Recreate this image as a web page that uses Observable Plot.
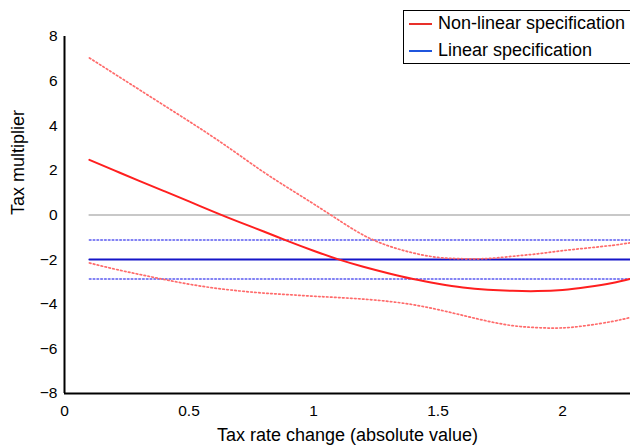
<!DOCTYPE html>
<html>
<head>
<meta charset="utf-8">
<script src="https://cdn.jsdelivr.net/npm/d3@7"></script>
<script src="https://cdn.jsdelivr.net/npm/@observablehq/plot@0.6"></script>
<style>
  html, body { margin: 0; padding: 0; background: #fff; overflow: hidden; }
  #wrap { position: relative; width: 630px; height: 445px; overflow: hidden; }
  #wrap svg g[aria-label*="axis"] text { font-size: 15.5px; font-family: "Liberation Sans", Arial, sans-serif; }
  #legend {
    position: absolute; left: 403px; top: 10px; width: 240px; height: 54px;
    border: 1.3px solid #000; background: #fff; box-sizing: border-box;
    font-family: "Liberation Sans", Arial, sans-serif; font-size: 18px; color: #000;
  }
  .row { position: absolute; left: 0; height: 20px; display: flex; align-items: center; white-space: nowrap; }
  .sw { display: inline-block; width: 23px; height: 2px; margin-left: 5px; margin-right: 6px; }
</style>
</head>
<body>
<div id="wrap"></div>
<script>
// ---- data ----
const xs = [0.1, 0.2, 0.3, 0.4, 0.5, 0.6, 0.7, 0.8, 0.9, 1.0, 1.1, 1.2, 1.3, 1.4, 1.5, 1.6, 1.7, 1.8, 1.9, 2.0, 2.1, 2.2, 2.27];
const nonLinear = [2.47, 2.0, 1.53, 1.07, 0.61, 0.14, -0.31, -0.74, -1.18, -1.6, -1.99, -2.32, -2.61, -2.87, -3.08, -3.25, -3.35, -3.40, -3.41, -3.36, -3.23, -3.05, -2.87];
const nonLinearUpper = [7.04, 6.33, 5.62, 4.91, 4.2, 3.47, 2.7, 1.92, 1.2, 0.5, -0.22, -0.9, -1.38, -1.7, -1.9, -1.96, -1.95, -1.85, -1.74, -1.6, -1.48, -1.36, -1.25];
const nonLinearLower = [-2.15, -2.42, -2.66, -2.89, -3.1, -3.27, -3.4, -3.5, -3.57, -3.64, -3.7, -3.77, -3.87, -4.02, -4.24, -4.5, -4.76, -4.96, -5.05, -5.06, -4.95, -4.77, -4.6];
const linearEstimate = -1.99;
const linearUpper = -1.12;
const linearLower = -2.87;
const zeroLine = 0;
const xTicks = [0, 0.5, 1, 1.5, 2];
const yTicks = [-8, -6, -4, -2, 0, 2, 4, 6, 8];
const seriesNames = ["Non-linear specification", "Linear specification"];
const xTitle = "Tax rate change (absolute value)";
const yTitle = "Tax multiplier";

// ---- build table ----
const rows = xs.map((x, i) => ({
  x,
  nl: nonLinear[i], nlU: nonLinearUpper[i], nlL: nonLinearLower[i],
  lin: linearEstimate, linU: linearUpper, linL: linearLower, zero: zeroLine
}));

const font = "Liberation Sans, Arial, Helvetica, sans-serif";
const RED = "#ff1f1f", RED_DOT = "#ff6b6b", BLUE = "#1515c8", BLUE_DOT = "#5a5af0";

const chart = Plot.plot({
  width: 630, height: 445,
  marginLeft: 64, marginRight: 0, marginTop: 36, marginBottom: 52,
  style: { fontFamily: font, fontSize: "15.5px", background: "white", color: "black", overflow: "visible" },
  x: { domain: [0, 2.273], ticks: xTicks, tickFormat: d => `${d}`, tickSize: 0, tickPadding: 11, label: null },
  y: { domain: [-8, 8], ticks: yTicks, tickSize: 0, tickPadding: 7, label: null },
  marks: [
    Plot.line(rows, { x: "x", y: "zero", stroke: "#c8c8c8", strokeWidth: 2 }),
    Plot.line(rows, { x: "x", y: "linU", stroke: BLUE_DOT, strokeWidth: 1.6, strokeDasharray: "1.6,2.2" }),
    Plot.line(rows, { x: "x", y: "linL", stroke: BLUE_DOT, strokeWidth: 1.6, strokeDasharray: "1.6,2.2" }),
    Plot.line(rows, { x: "x", y: "lin", stroke: BLUE, strokeWidth: 2 }),
    Plot.line(rows, { x: "x", y: "nlU", stroke: RED_DOT, strokeWidth: 1.7, strokeDasharray: "1.6,2.4", curve: "natural" }),
    Plot.line(rows, { x: "x", y: "nlL", stroke: RED_DOT, strokeWidth: 1.7, strokeDasharray: "1.6,2.4", curve: "natural" }),
    Plot.line(rows, { x: "x", y: "nl", stroke: RED, strokeWidth: 2, curve: "natural" }),
    Plot.ruleX([0], { stroke: "black", strokeWidth: 2 }),
    Plot.ruleY([-8], { stroke: "black", strokeWidth: 2 }),
    Plot.text([xTitle], { frameAnchor: "bottom", lineAnchor: "top", dy: 35, fontSize: 18, fill: "black", text: d => d }),
    Plot.text([yTitle], { frameAnchor: "left", rotate: -90, lineAnchor: "middle", dx: -46, fontSize: 18, fill: "black", text: d => d })
  ]
});

const wrap = document.getElementById("wrap");
wrap.appendChild(chart);

// legend overlay
const legend = document.createElement("div");
legend.id = "legend";
const colors = ["#e8302a", "#1f55dd"];
seriesNames.forEach((name, i) => {
  const r = document.createElement("div");
  r.className = "row";
  r.style.top = (i === 0 ? 2.5 : 29.5) + "px";
  const sw = document.createElement("span");
  sw.className = "sw";
  sw.style.background = colors[i];
  const t = document.createElement("span");
  t.textContent = name;
  r.appendChild(sw); r.appendChild(t);
  legend.appendChild(r);
});
wrap.appendChild(legend);
</script>
</body>
</html>
